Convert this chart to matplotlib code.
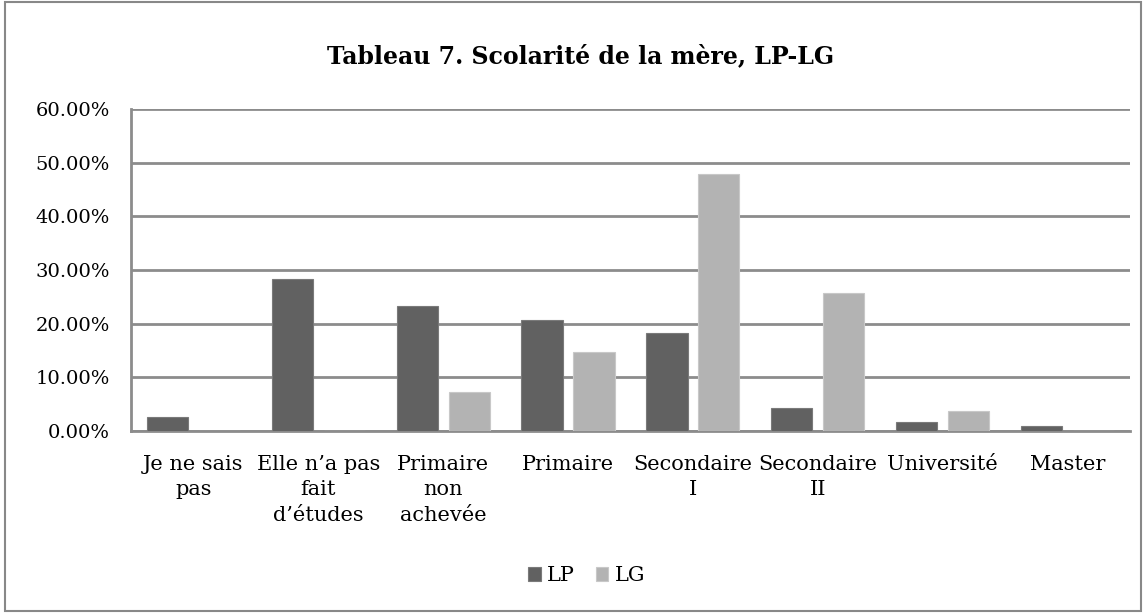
import matplotlib
matplotlib.use("Agg")
import matplotlib.pyplot as plt
import numpy as np
from matplotlib.patches import Rectangle

categories = ["Je ne sais\npas", "Elle n\u2019a pas\nfait\nd\u2019\u00e9tudes", "Primaire\nnon\nachev\u00e9e",
              "Primaire", "Secondaire\nI", "Secondaire\nII", "Universit\u00e9", "Master"]
lp = [0.026, 0.284, 0.232, 0.207, 0.182, 0.042, 0.016, 0.009]
lg = [0.0, 0.0, 0.072, 0.148, 0.478, 0.258, 0.037, 0.0]
yticks = [0.0, 0.1, 0.2, 0.3, 0.4, 0.5, 0.6]
title = "Tableau 7. Scolarit\u00e9 de la m\u00e8re, LP-LG"

plt.rcParams['font.family'] = ['DejaVu Serif']

fig = plt.figure(figsize=(11.46, 6.13), dpi=100)
fig.patches.append(Rectangle((0.004, 0.004), 0.992, 0.992, transform=fig.transFigure,
                             fill=False, edgecolor='#888888', linewidth=1.5))
ax = fig.add_axes([0.1143, 0.2969, 0.8717, 0.5253])

x = np.arange(len(categories))
w = 0.33
off = 0.208
ax.bar(x - off, lp, w, color='#616161', edgecolor='#7a7a7a', linewidth=0.8, label='LP', zorder=3)
ax.bar(x + off, lg, w, color='#b3b3b3', edgecolor='#c8c8c8', linewidth=0.8, label='LG', zorder=3)

ax.set_xlim(-0.5, len(categories) - 0.5)
ax.set_ylim(0, 0.6)
ax.set_yticks(yticks)
ax.set_yticklabels([f"{v*100:.2f}%" for v in yticks], fontsize=14)
ax.set_xticks(x)
ax.set_xticklabels(categories, fontsize=15, linespacing=1.45)
ax.tick_params(axis='x', length=0, pad=17)
ax.tick_params(axis='y', length=0, pad=15)
ax.yaxis.grid(True, color='#8c8c8c', linewidth=2, zorder=0)
ax.set_axisbelow(True)
for s in ['top', 'right']:
    ax.spines[s].set_visible(False)
for s in ['left', 'bottom']:
    ax.spines[s].set_color('#8c8c8c')
    ax.spines[s].set_linewidth(2)

fig.text(0.507, 0.908, title, ha='center', va='center', fontsize=17, fontweight='bold')
fig.legend(loc='center', bbox_to_anchor=(0.512, 0.061), ncol=2, frameon=False, fontsize=15,
           handlelength=0.6, handleheight=0.7, handletextpad=0.3, columnspacing=1.0)

fig.savefig("out.png", dpi=100)
